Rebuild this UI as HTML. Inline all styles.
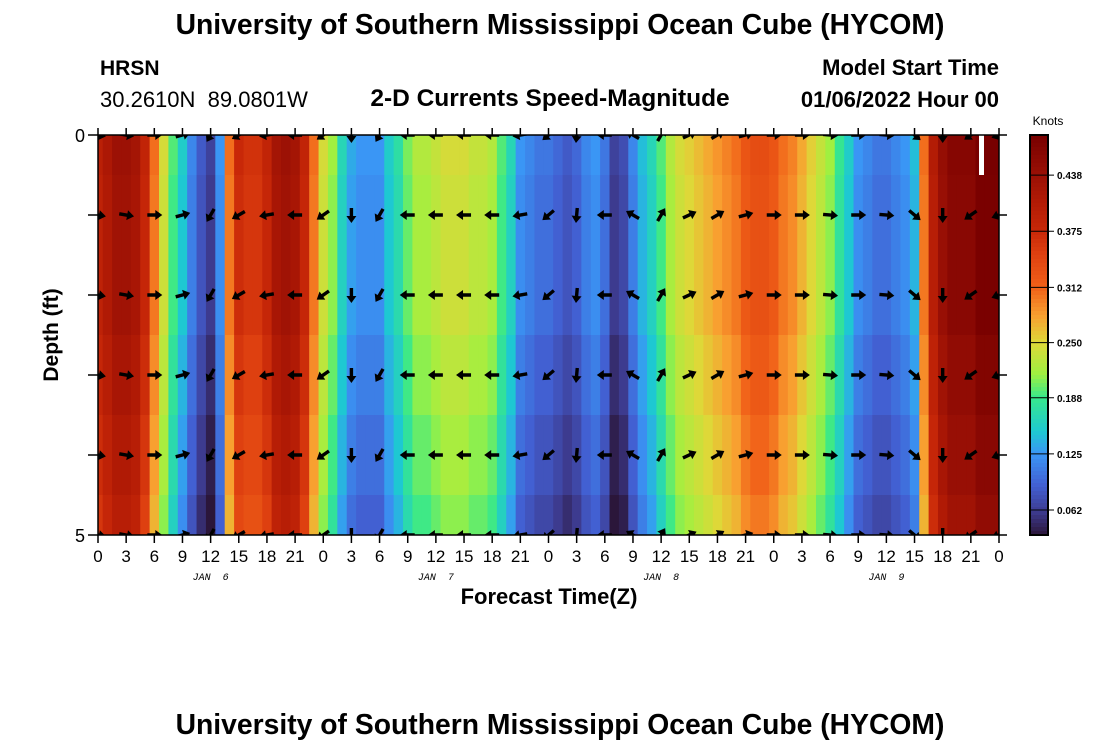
<!DOCTYPE html>
<html><head><meta charset="utf-8"><style>
body{margin:0;background:#fff;}
svg text{font-family:"Liberation Sans",sans-serif;}
</style></head><body>
<svg id="chart" width="1100" height="750" viewBox="0 0 1100 750" xmlns="http://www.w3.org/2000/svg">
<text x="560" y="34" text-anchor="middle" font-size="28.3" font-weight="bold">University of Southern Mississippi Ocean Cube (HYCOM)</text>
<text x="100" y="75" font-size="21" font-weight="bold">HRSN</text>
<text x="100" y="107" font-size="22" style="white-space:pre" xml:space="preserve">30.2610N  89.0801W</text>
<text x="550" y="106" text-anchor="middle" font-size="24.5" font-weight="bold">2-D Currents Speed-Magnitude</text>
<text x="999" y="75" text-anchor="end" font-size="22" font-weight="bold">Model Start Time</text>
<text x="999" y="107" text-anchor="end" font-size="22" font-weight="bold">01/06/2022 Hour 00</text>
<defs><clipPath id="plotclip"><rect x="98" y="135" width="901" height="400"/></clipPath></defs>
<g id="cells" clip-path="url(#plotclip)"></g>
<g id="arrows" clip-path="url(#plotclip)"></g>
<rect x="979" y="135" width="5" height="40" fill="#fff"/>
<rect x="98" y="135" width="901" height="400" fill="none" stroke="#000" stroke-width="1.5"/>
<g id="axes"></g>
<text transform="translate(58,335) rotate(-90)" text-anchor="middle" font-size="21" font-weight="bold">Depth (ft)</text>
<text x="549" y="604" text-anchor="middle" font-size="22" font-weight="bold">Forecast Time(Z)</text>
<g id="colorbar"></g>
<text x="1048" y="125" text-anchor="middle" font-size="12">Knots</text>
<text x="560" y="734" text-anchor="middle" font-size="28.3" font-weight="bold">University of Southern Mississippi Ocean Cube (HYCOM)</text>
</svg>
<script>
// hourly speed (knots) at surface, hours 0..96
const speeds = [0.39,0.41,0.43,0.43,0.42,0.38,0.30,0.24,0.19,0.15,0.11,0.08,0.06,0.12,0.30,0.37,0.36,0.36,0.38,0.42,0.43,0.42,0.38,0.30,0.24,0.21,0.16,0.13,0.12,0.12,0.12,0.15,0.17,0.20,0.22,0.22,0.23,0.24,0.24,0.24,0.23,0.23,0.22,0.19,0.16,0.12,0.11,0.10,0.10,0.09,0.08,0.09,0.11,0.12,0.10,0.06,0.07,0.11,0.14,0.16,0.19,0.22,0.24,0.25,0.26,0.27,0.28,0.29,0.30,0.32,0.33,0.33,0.32,0.30,0.29,0.27,0.25,0.23,0.21,0.18,0.15,0.12,0.11,0.10,0.10,0.11,0.12,0.14,0.30,0.40,0.44,0.46,0.46,0.46,0.48,0.48,0.48];
const depths = [0,1,2,3,4,5];
const depthOffset = [0.005,0,0,-0.01,-0.02,-0.03];
// arrow direction (deg, 0=east, 90=north) every 3 hours
const arrowHours = [0,3,6,9,12,15,18,21,24,27,30,33,36,39,42,45,48,51,54,57,60,63,66,69,72,75,78,81,84,87,90,93,96];
const arrowDir = [-10,-10,0,15,-120,-150,-170,180,-145,-90,-120,180,180,180,180,-170,-140,-95,180,150,60,25,30,15,0,0,-5,0,-5,-40,-90,-145,-160];
const cbTicks = [0.062,0.125,0.188,0.250,0.312,0.375,0.438];
const vmin=0.034, vmax=0.483;
const stops=[[0.034,[43,22,58]],[0.062,[62,62,150]],[0.09,[66,96,210]],[0.125,[58,150,245]],[0.15,[30,200,210]],[0.188,[55,232,140]],[0.215,[160,240,64]],[0.25,[222,216,56]],[0.28,[248,160,48]],[0.312,[240,96,24]],[0.35,[222,64,16]],[0.375,[200,40,8]],[0.41,[176,26,5]],[0.438,[154,16,5]],[0.483,[120,0,0]]];
const X0=98,X1=999,Y0=135,Y1=535;
const xs=h=>X0+(X1-X0)*h/96;
const ys=d=>Y0+(Y1-Y0)*d/5;
const NS="http://www.w3.org/2000/svg";
function mk(t,a,p){const e=document.createElementNS(NS,t);for(const k in a)e.setAttribute(k,a[k]);p.appendChild(e);return e;}
function col(v){
  if(v<=stops[0][0])return `rgb(${stops[0][1]})`;
  for(let i=1;i<stops.length;i++){if(v<=stops[i][0]){const a=stops[i-1],b=stops[i];const f=(v-a[0])/(b[0]-a[0]);
    const c=a[1].map((x,j)=>Math.round(x+(b[1][j]-x)*f));return `rgb(${c})`;}}
  return `rgb(${stops[stops.length-1][1]})`;
}
const cells=document.getElementById('cells');
depths.forEach((d,di)=>{
  const ya=Math.max(Y0,ys(d-0.5)), yb=Math.min(Y1,ys(d+0.5));
  speeds.forEach((v,h)=>{
    const xa=Math.max(X0,xs(h-0.5)), xb=Math.min(X1,xs(h+0.5));
    const r=mk('rect',{x:xa,y:ya,width:xb-xa+0.6,height:yb-ya+0.3,fill:col(v+depthOffset[di])},cells);
    
    
  });
});
const arrows=document.getElementById('arrows');
depths.forEach(d=>{
  arrowHours.forEach((h,i)=>{
    const a=mk('path',{d:'M-7,-1.7 L1,-1.7 L1,-5 L8,0 L1,5 L1,1.7 L-7,1.7 Z',fill:'#000',
      transform:`translate(${xs(h)},${ys(d)}) rotate(${-arrowDir[i]})`},arrows);
    
    
  });
});
const axes=document.getElementById('axes');
arrowHours.forEach((h,i)=>{
  mk('line',{x1:xs(h),x2:xs(h),y1:Y1,y2:Y1+8,stroke:'#000','stroke-width':1.5},axes);
  mk('line',{x1:xs(h),x2:xs(h),y1:Y0,y2:Y0-7,stroke:'#000','stroke-width':1.5},axes);
  const t=mk('text',{x:xs(h),y:Y1+27,'text-anchor':'middle','font-size':17},axes);
  t.textContent=String(h%24);
  
  
});
const dayLabels=['JAN 6','JAN 7','JAN 8','JAN 9'];
dayLabels.forEach((s,i)=>{
  const t=mk('text',{x:xs(12+24*i),y:Y1+45,'text-anchor':'middle',style:'font-family:"Liberation Mono",monospace;font-style:italic;font-size:10px;white-space:pre'},axes);
  t.textContent=s.replace(' ','  ');
  
  
});
depths.forEach(d=>{
  mk('line',{x1:X0-10,x2:X0,y1:ys(d),y2:ys(d),stroke:'#000','stroke-width':1.5},axes);
  mk('line',{x1:X1,x2:X1+8,y1:ys(d),y2:ys(d),stroke:'#000','stroke-width':1.5},axes);
});
[0,5].forEach(d=>{
  const t=mk('text',{x:X0-13,y:ys(d)+7,'text-anchor':'end','font-size':18},axes);
  t.textContent=String(d);
  
  
});
const cb=document.getElementById('colorbar');
const CX=1030,CW=18;
const cy=v=>Y1-(Y1-Y0)*(v-vmin)/(vmax-vmin);
for(let i=0;i<100;i++){
  const ya=Y0+i*4;
  const v=vmax-(vmax-vmin)*(i+0.5)/100;
  mk('rect',{x:CX,y:ya,width:CW,height:4.5,fill:col(v)},cb);
}
mk('rect',{x:CX,y:Y0,width:CW,height:Y1-Y0,fill:'none',stroke:'#000','stroke-width':2},cb);
cbTicks.forEach(v=>{
  mk('line',{x1:CX,x2:CX+CW+6,y1:cy(v),y2:cy(v),stroke:'#000','stroke-width':1},cb);
  const t=mk('text',{x:CX+CW+9,y:cy(v)+4,'font-size':10,'font-weight':'bold'},cb);
  t.textContent=v.toFixed(3);
  
  
});
</script>
</body></html>
